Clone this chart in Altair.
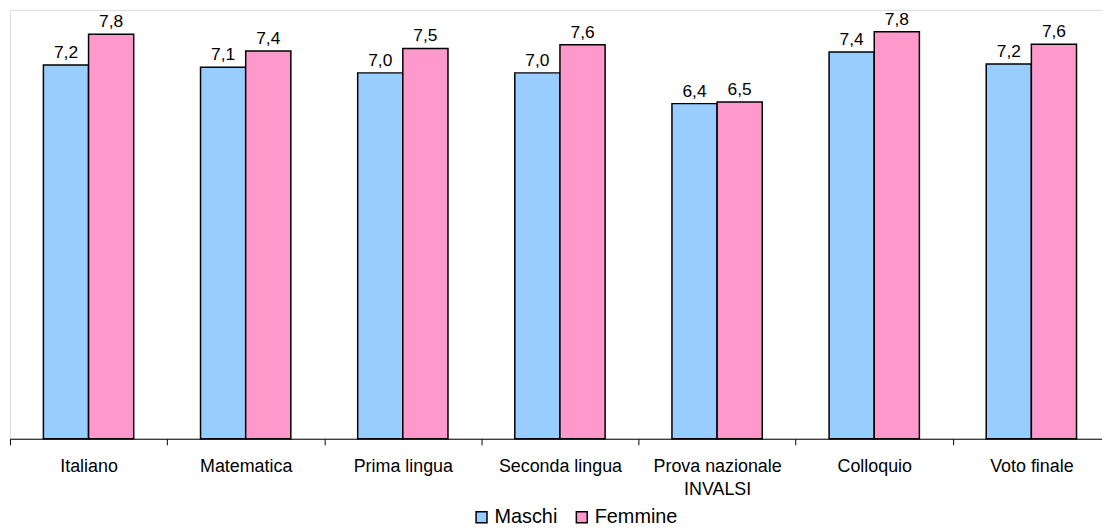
import altair as alt
import pandas as pd

categories = ["Italiano", "Matematica", "Prima lingua", "Seconda lingua",
              "Prova nazionale\nINVALSI", "Colloquio", "Voto finale"]
maschi = [7.17, 7.13, 7.02, 7.02, 6.43, 7.42, 7.19]
femmine = [7.76, 7.44, 7.49, 7.56, 6.46, 7.81, 7.57]
series = ["Maschi", "Femmine"]
colors = ["#99CCFF", "#FF99CC"]

rows = []
for c, m, f in zip(categories, maschi, femmine):
    for s, v in zip(series, [m, f]):
        rows.append({"cat": c, "serie": s, "val": v,
                     "lab": f"{v:.1f}".replace(".", ",")})
df = pd.DataFrame(rows)

FONT = "Arial, Liberation Sans, sans-serif"

x = alt.X("cat:N", sort=categories, title=None,
          scale=alt.Scale(paddingInner=0, paddingOuter=0, range=[0, 1108]),
          axis=alt.Axis(labelAngle=0, labelFontSize=18, labelFont=FONT,
                        labelColor="#000", domainColor="#000", tickColor="#000",
                        tickSize=6, tickBand="extent", labelPadding=13,
                        labelLineHeight=23,
                        labelExpr="split(datum.label, '\\n')"))
xo = alt.XOffset("serie:N", sort=series,
                 scale=alt.Scale(paddingInner=0, paddingOuter=0.74))
y = alt.Y("val:Q", axis=None,
          scale=alt.Scale(domain=[0, 432 / 52.5], nice=False, zero=True))

bars = alt.Chart(df).mark_bar(stroke="#000", strokeWidth=1.5).encode(
    x=x, xOffset=xo, y=y,
    color=alt.Color("serie:N", sort=series,
                    scale=alt.Scale(domain=series, range=colors),
                    legend=alt.Legend(title=None, orient="none", direction="horizontal",
                                      legendX=465, legendY=501,
                                      symbolType="square", symbolSize=121,
                                      symbolStrokeColor="#000", symbolStrokeWidth=1.5,
                                      symbolOpacity=1,
                                      labelFontSize=20, labelFont=FONT, labelColor="#000",
                                      labelOffset=3, columnPadding=14, padding=0)),
)

text = alt.Chart(df).mark_text(baseline="alphabetic", dy=-7, fontSize=17.5,
                               font=FONT, color="#000").encode(
    x=x, xOffset=xo, y=y, text="lab:N")

chart = (bars + text).properties(
    width=1100, height=432,
    autosize=alt.AutoSizeParams(type="none"),
    padding={"left": 2, "top": 0, "right": 0, "bottom": 88},
).configure_view(stroke=None).configure(background="white")

chart.save("out.html", embed_options={"renderer": "svg", "actions": False})
